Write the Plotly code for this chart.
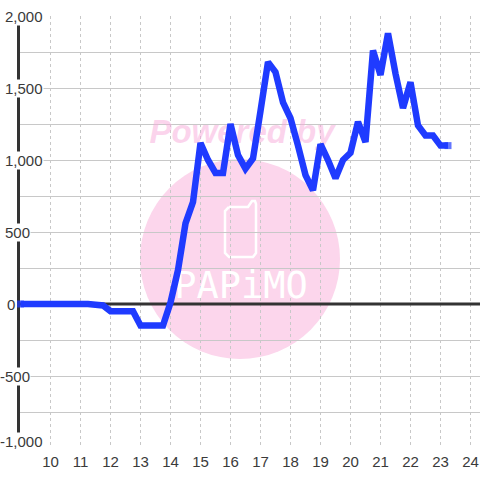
import plotly.graph_objects as go

times = [9,9.25,9.5,9.75,10,10.25,10.5,10.75,11,11.25,11.5,11.75,12,12.25,12.5,12.75,13,13.25,13.5,13.75,14,14.25,14.5,14.75,
         15,15.25,15.5,15.75,16,16.25,16.5,16.75,17,17.25,17.5,17.75,18,18.25,18.5,18.75,19,19.25,19.5,19.75,
         20,20.25,20.5,20.75,21,21.25,21.5,21.75,22,22.25,22.5,22.75,23,23.25]
diff = [0,0,0,0,0,0,0,0,0,0,-5,-10,-50,-50,-50,-50,-150,-150,-150,-150,10,236,560,708,
        1118,1000,910,910,1250,1035,940,1010,1340,1680,1610,1400,1290,1100,895,790,1110,1000,873,1000,
        1050,1265,1125,1760,1590,1880,1600,1360,1540,1240,1170,1170,1100,1100]
y_ticks = [2000,1500,1000,500,0,-500,-1000]
y_labels = ["2,000","1,500","1,000","500","0","-500","-1,000"]
x_ticks = list(range(10,25))
label_right_px = [44,44,44,31,16,31,44]
label_shift_px = [0,0,0,0,0,0,7]

W,H = 480,480
L,R,T,B = 20,480,16,448
X0,X1 = 10+(L-50.5)/30, 10+(480-50.5)/30
Y0,Y1 = -1000,2000
def px_x(p): return X0+(p-L)/(R-L)*(X1-X0)
def px_y(p): return Y1-(p-T)/(B-T)*(Y1-Y0)

PINK = "#fcd6ec"
INK = "#3a3a3a"
fig = go.Figure()

fig.add_trace(go.Scatter(x=[px_x(242)],y=[px_y(135)],mode="text",text=["<b><i>Powered by</i></b>"],
    textfont=dict(family="Liberation Sans",size=33,color="rgba(248,170,218,0.5)"),hoverinfo="skip",showlegend=False,cliponaxis=False))
fig.add_trace(go.Scatter(x=[px_x(241)],y=[px_y(289)],mode="text",text=["PAPiMO"],
    textfont=dict(family="DejaVu Sans Mono",size=37,color="#ffffff"),hoverinfo="skip",showlegend=False))
fig.add_trace(go.Scatter(x=[X0,X1],y=[0,0],mode="lines",line=dict(color="#333333",width=3),hoverinfo="skip",showlegend=False))
caps = [7]+[0]*(len(times)-2)+[7]
fig.add_trace(go.Scatter(x=times,y=diff,mode="lines+markers",line=dict(color="#1f3bff",width=6.5,simplify=False),
    marker=dict(symbol="square",size=caps,color="#1f3bff",line=dict(width=0)),showlegend=False,cliponaxis=False))

shapes = [dict(type="circle",xref="x",yref="y",x0=px_x(140),x1=px_x(340),y0=px_y(159),y1=px_y(359),
               fillcolor=PINK,line=dict(width=0),layer="below")]
def pth(points):
    return "M"+" L".join(f"{px_x(a):.4f},{px_y(b):.4f}" for a,b in points)
phone = [(229,207),(248,207),(252,201),(255,201),(256,204),(256,253),(253,257),(229,257),(225,253),(225,211),(229,207)]
shapes.append(dict(type="path",xref="x",yref="y",path=pth(phone),line=dict(color="#ffffff",width=2.5),layer="below"))

annotations = [dict(x=(r-L)/(R-L),y=v,xref="paper",yref="y",text=t,showarrow=False,xanchor="right",yanchor="middle",yshift=s,
                    bgcolor="#ffffff",font=dict(family="Liberation Sans",size=15,color=INK),borderpad=0)
               for v,t,r,s in zip(y_ticks,y_labels,label_right_px,label_shift_px)]

fig.update_layout(width=W,height=H,autosize=False,margin=dict(l=L,r=0,t=T,b=H-B,pad=0),
    paper_bgcolor="#ffffff",plot_bgcolor="#ffffff",shapes=shapes,annotations=annotations,showlegend=False,
    xaxis=dict(range=[X0,X1],tickmode="array",tickvals=x_ticks,ticktext=[str(v) for v in x_ticks],
        showgrid=True,gridcolor="#c8c8c8",griddash="dot",gridwidth=1,zeroline=False,showline=False,ticks="",
        ticklabelstandoff=3,tickfont=dict(family="Liberation Sans",size=15,color=INK)),
    yaxis=dict(range=[Y0,Y1],tick0=0,dtick=250,showgrid=True,gridcolor="#c8c8c8",gridwidth=1.2,zeroline=False,
        showticklabels=False,ticks="",showline=True,linecolor="#333333",linewidth=3,layer="below traces"))
fig.write_html("out.html",config=dict(displayModeBar=False),
    post_script="document.body.style.margin='0';document.body.style.overflow='hidden';")
